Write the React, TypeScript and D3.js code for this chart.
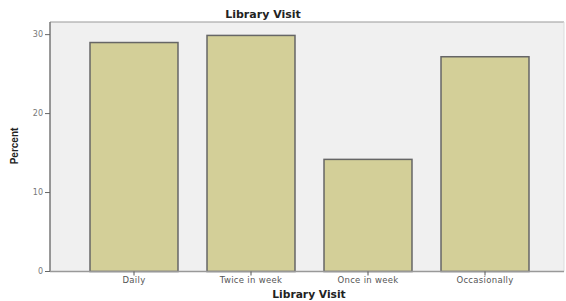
import React from "react";
import * as d3 from "d3";

const categories = ["Daily", "Twice in week", "Once in week", "Occasionally"];
const percents = [29.0, 29.9, 14.2, 27.2];
const yTicks = [0, 10, 20, 30];
const title = "Library Visit";
const xTitle = "Library Visit";
const yTitle = "Percent";

export default function App() {
  const W = 566, H = 301;
  const left = 50, right = 564, top = 22, bottom = 271.5;
  const x = d3.scaleBand<string>().domain(categories).range([75.5, 543.5]).paddingInner(0.248).paddingOuter(0.124);
  const y = d3.scaleLinear().domain([0, 31.6]).range([bottom, top]);
  const font = "'Liberation Sans', Arial, sans-serif";
  const dv = "'DejaVu Sans', Verdana, sans-serif";
  return (
    <svg width={W} height={H} style={{ position: "absolute", left: 0, top: 0, background: "#fff" }}>
      <rect x={left} y={top} width={right - left} height={bottom - top} fill="#f0f0f0" />
      <line x1={left} x2={right} y1={top} y2={top} stroke="#999" strokeWidth={1.2} />
      <line x1={right} x2={right} y1={top} y2={bottom} stroke="#ddd" strokeWidth={1} />
      {categories.map((c, i) => (
        <rect key={c} x={x(c)} y={y(percents[i])} width={x.bandwidth()} height={bottom - y(percents[i])}
          fill="#d3cf98" stroke="#666" strokeWidth={1.5} />
      ))}
      <line x1={left} x2={left} y1={top} y2={bottom} stroke="#777" strokeWidth={1.5} />
      <line x1={left} x2={right} y1={bottom} y2={bottom} stroke="#999" strokeWidth={1.5} />
      {yTicks.map(t => (
        <g key={t}>
          <line x1={left - 5} x2={left} y1={y(t)} y2={y(t)} stroke="#666" strokeWidth={1} />
          <text x={left - 7} y={y(t)} dy="0.35em" textAnchor="end" fontSize={8} fill="#777" fontFamily={dv}>{t}</text>
        </g>
      ))}
      {categories.map(c => (
        <g key={c}>
          <line x1={x(c)! + x.bandwidth() / 2} x2={x(c)! + x.bandwidth() / 2} y1={bottom} y2={bottom + 4} stroke="#555" strokeWidth={1} />
          <text x={x(c)! + x.bandwidth() / 2} y={283} textAnchor="middle" fontSize={8.5} letterSpacing={0.3} fill="#555" fontFamily={dv}>{c}</text>
        </g>
      ))}
      <text x={263} y={18} textAnchor="middle" fontSize={11} fontWeight="bold" fill="#222" fontFamily={dv}>{title}</text>
      <text x={309} y={298} textAnchor="middle" fontSize={10.7} fontWeight="bold" fill="#222" fontFamily={dv}>{xTitle}</text>
      <text transform={`translate(18,146) rotate(-90)`} textAnchor="middle" fontSize={10} fontWeight="bold" fill="#222" fontFamily={font}>{yTitle}</text>
    </svg>
  );
}
